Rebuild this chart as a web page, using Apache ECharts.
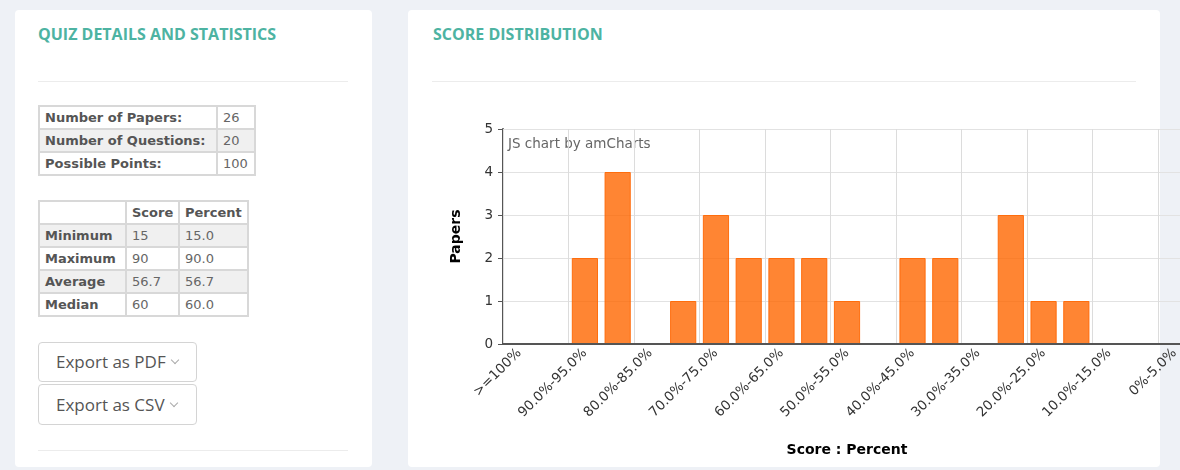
<!DOCTYPE html>
<html>
<head>
<meta charset="utf-8">
<title>Score Distribution</title>
<script src="https://cdn.jsdelivr.net/npm/echarts@6/dist/echarts.min.js"></script>
<style>
  html, body { margin: 0; padding: 0; width: 1180px; height: 470px; overflow: hidden; background: #eef1f6; }
  .card { position: absolute; top: 10px; height: 457px; background: #fff; border-radius: 4px; }
  .title { position: absolute; top: 23px; font-family: "Open Sans", sans-serif; font-weight: 700; font-size: 16px; color: #4db3a2; }
  .rule { position: absolute; height: 1px; background: #ececec; }
  table { position: absolute; border-collapse: collapse; table-layout: fixed; font-family: "DejaVu Sans", Verdana, sans-serif; font-size: 13px; color: #666; }
  td { border: 2px solid #d8d8d8; padding: 0 5px; height: 21px; line-height: 20px; white-space: nowrap; overflow: hidden; }
  td.lbl { font-weight: bold; color: #555; }
  tr.alt td { background: #f0f0f0; }
  .btn { position: absolute; left: 38px; width: 159px; border: 1px solid #d4d4d4; border-radius: 4px; font-family: "Open Sans", sans-serif; font-size: 17px; color: #555; box-sizing: border-box; padding-left: 17px; }
  .btn .chev { display: inline-block; width: 5px; height: 5px; border-right: 1px solid #aaa; border-bottom: 1px solid #aaa; transform: rotate(45deg); margin-left: 6px; position: relative; top: -5px; }
  #chart { position: absolute; left: 408px; top: 100px; width: 800px; height: 370px; }
</style>
</head>
<body>
<div class="card" style="left:15px;width:357px"></div>
<div class="card" style="left:408px;width:752px"></div>
<div class="title" style="left:38px">QUIZ DETAILS AND STATISTICS</div>
<div class="title" style="left:433px">SCORE DISTRIBUTION</div>
<div class="rule" style="left:38px;top:81px;width:310px"></div>
<div class="rule" style="left:432px;top:81px;width:704px"></div>
<div class="rule" style="left:38px;top:450px;width:310px"></div>

<table id="details" style="left:38px;top:105px;width:216px">
  <colgroup><col style="width:178px"><col style="width:38px"></colgroup>
</table>
<table id="stats" style="left:38px;top:200px;width:209px">
  <colgroup><col style="width:87px"><col style="width:53px"><col style="width:69px"></colgroup>
</table>

<div class="btn" style="top:342px;height:40px;line-height:38px">Export as PDF<span class="chev"></span></div>
<div class="btn" style="top:384px;height:41px;line-height:39px">Export as CSV<span class="chev"></span></div>

<div id="chart"></div>

<script>
// quiz summary
const detailLabels = ['Number of Papers:', 'Number of Questions:', 'Possible Points:']
const detailValues = ['26', '20', '100']
const statHeaders = ['', 'Score', 'Percent']
const statLabels = ['Minimum', 'Maximum', 'Average', 'Median']
const statScores = ['15', '90', '56.7', '60']
const statPercents = ['15.0', '90.0', '56.7', '60.0']

// score distribution
const categories = [
  '>=100%', '95.0%-100.0%', '90.0%-95.0%', '85.0%-90.0%', '80.0%-85.0%',
  '75.0%-80.0%', '70.0%-75.0%', '65.0%-70.0%', '60.0%-65.0%', '55.0%-60.0%',
  '50.0%-55.0%', '45.0%-50.0%', '40.0%-45.0%', '35.0%-40.0%', '30.0%-35.0%',
  '25.0%-30.0%', '20.0%-25.0%', '15.0%-20.0%', '10.0%-15.0%', '5.0%-10.0%', '0%-5.0%'
]
const papers = [0, 0, 2, 4, 0, 1, 3, 2, 2, 2, 1, 0, 2, 2, 0, 3, 1, 1, 0, 0, 0]

// tables
let html = ''
detailLabels.forEach((l, i) => {
  html += '<tr' + (i === 1 ? ' class="alt"' : '') + '><td class="lbl">' + l + '</td><td>' + detailValues[i] + '</td></tr>'
})
document.getElementById('details').insertAdjacentHTML('beforeend', html)

html = '<tr>' + statHeaders.map(h => '<td class="lbl">' + h + '</td>').join('') + '</tr>'
statLabels.forEach((l, i) => {
  html += '<tr' + (i % 2 === 0 ? ' class="alt"' : '') + '><td class="lbl">' + l + '</td><td>' + statScores[i] + '</td><td>' + statPercents[i] + '</td></tr>'
})
document.getElementById('stats').insertAdjacentHTML('beforeend', html)

// chart
const myChart = echarts.init(document.getElementById('chart'))
const font = '"DejaVu Sans", Verdana, sans-serif'
const option = {
  animation: false,
  grid: {
    left: 95,
    top: 29,
    height: 215,
    right: 17
  },
  graphic: [{
    type: 'text',
    left: 100,
    top: 37,
    style: {
      text: 'JS chart by amCharts',
      fill: '#666',
      font: '13.5px ' + font
    }
  }],
  xAxis: {
    type: 'category',
    data: categories,
    z: 3,
    name: 'Score : Percent',
    nameLocation: 'middle',
    nameGap: 99,
    nameTextStyle: {
      fontFamily: font,
      fontWeight: 'bold',
      fontSize: 14,
      color: '#000'
    },
    axisLine: {
      lineStyle: { color: '#555', width: 2 }
    },
    axisTick: {
      alignWithLabel: true,
      interval: 1,
      length: 5,
      lineStyle: { color: '#555' }
    },
    axisLabel: {
      interval: 1,
      rotate: 45,
      margin: 7,
      fontFamily: font,
      fontSize: 13.5,
      color: '#333'
    },
    splitLine: {
      show: true,
      interval: 1,
      lineStyle: { color: '#dcdcdc' }
    }
  },
  yAxis: {
    type: 'value',
    min: 0,
    max: 5,
    interval: 1,
    name: 'Papers',
    nameLocation: 'middle',
    nameRotate: 90,
    nameGap: 40,
    nameTextStyle: {
      fontFamily: font,
      fontWeight: 'bold',
      fontSize: 14,
      color: '#000'
    },
    axisLine: {
      show: true,
      lineStyle: { color: '#555', width: 2 }
    },
    axisTick: {
      show: true,
      length: 5,
      lineStyle: { color: '#555' }
    },
    axisLabel: {
      margin: 10,
      fontFamily: font,
      fontSize: 13.5,
      color: '#333'
    },
    splitLine: {
      lineStyle: { color: '#e2e2e2' }
    }
  },
  series: [{
    type: 'bar',
    data: papers,
    barCategoryGap: '20%',
    itemStyle: {
      color: 'rgba(255, 102, 0, 0.8)',
      borderColor: 'rgba(255, 102, 0, 0.9)',
      borderWidth: 1
    }
  }]
}
myChart.setOption(option)
</script>
</body>
</html>
